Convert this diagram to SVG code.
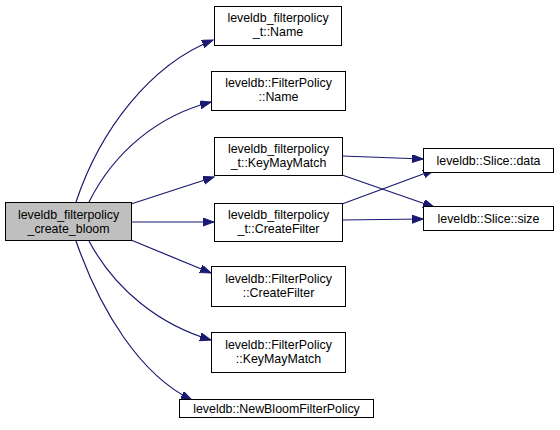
<svg xmlns="http://www.w3.org/2000/svg" width="560" height="430" viewBox="0 0 560 430">
<defs>
<style>
.n rect{fill:#fff;stroke:#000;stroke-width:1}
.n.m rect{fill:#bfbfbf}
text{font-family:"Liberation Sans",Arial,sans-serif;font-size:12.4px;fill:#000;text-anchor:middle}
.e path{fill:none;stroke:#191970;stroke-width:1.2;marker-end:url(#a)}
</style>
<marker id="a" markerUnits="userSpaceOnUse" markerWidth="12" markerHeight="10" refX="11" refY="4" orient="auto">
<path d="M0,0 L11,4 L0,8 Z" fill="#191970" stroke="#191970" stroke-width="1"/>
</marker>
</defs>
<rect width="560" height="430" fill="#fff"/>
<g class="e">
<path d="M76,202 C100,130 150,65 213,40"/>
<path d="M89,202 C115,150 160,115 211,102"/>
<path d="M131,204 L214,177"/>
<path d="M131,222 L214,222"/>
<path d="M131,240 L211,273"/>
<path d="M89,241 C115,290 160,325 211,340"/>
<path d="M76,241 C100,310 140,375 192,400"/>
<path d="M342,156 L423,159"/>
<path d="M342,175 L434,207"/>
<path d="M342,204 L434,170"/>
<path d="M342,220 L423,219"/>
</g>
<g id="main" class="n m"><rect x="5.5" y="202.5" width="126" height="38"/><text x="68.5" y="219">leveldb_filterpolicy</text><text x="68.5" y="233">_create_bloom</text></g>
<g id="n1" class="n"><rect x="214.5" y="6.5" width="127" height="39"/><text x="278" y="22">leveldb_filterpolicy</text><text x="278" y="36">_t::Name</text></g>
<g id="n2" class="n"><rect x="211.5" y="71.5" width="134" height="39"/><text x="278.5" y="87">leveldb::FilterPolicy</text><text x="278.5" y="101">::Name</text></g>
<g id="n3" class="n"><rect x="214.5" y="137.5" width="128" height="38"/><text x="278.5" y="153">leveldb_filterpolicy</text><text x="278.5" y="167">_t::KeyMayMatch</text></g>
<g id="n4" class="n"><rect x="214.5" y="203.5" width="128" height="38"/><text x="278.5" y="219">leveldb_filterpolicy</text><text x="278.5" y="233">_t::CreateFilter</text></g>
<g id="n5" class="n"><rect x="423.5" y="148.5" width="130" height="24"/><text x="488.5" y="165">leveldb::Slice::data</text></g>
<g id="n6" class="n"><rect x="423.5" y="206.5" width="130" height="24"/><text x="488.5" y="223">leveldb::Slice::size</text></g>
<g id="n7" class="n"><rect x="211.5" y="266.5" width="134" height="40"/><text x="278.5" y="283">leveldb::FilterPolicy</text><text x="278.5" y="297">::CreateFilter</text></g>
<g id="n8" class="n"><rect x="211.5" y="332.5" width="134" height="40"/><text x="278.5" y="349">leveldb::FilterPolicy</text><text x="278.5" y="363">::KeyMayMatch</text></g>
<g id="n9" class="n"><rect x="179.5" y="399.5" width="194" height="18"/><text x="276.5" y="413">leveldb::NewBloomFilterPolicy</text></g>
</svg>
